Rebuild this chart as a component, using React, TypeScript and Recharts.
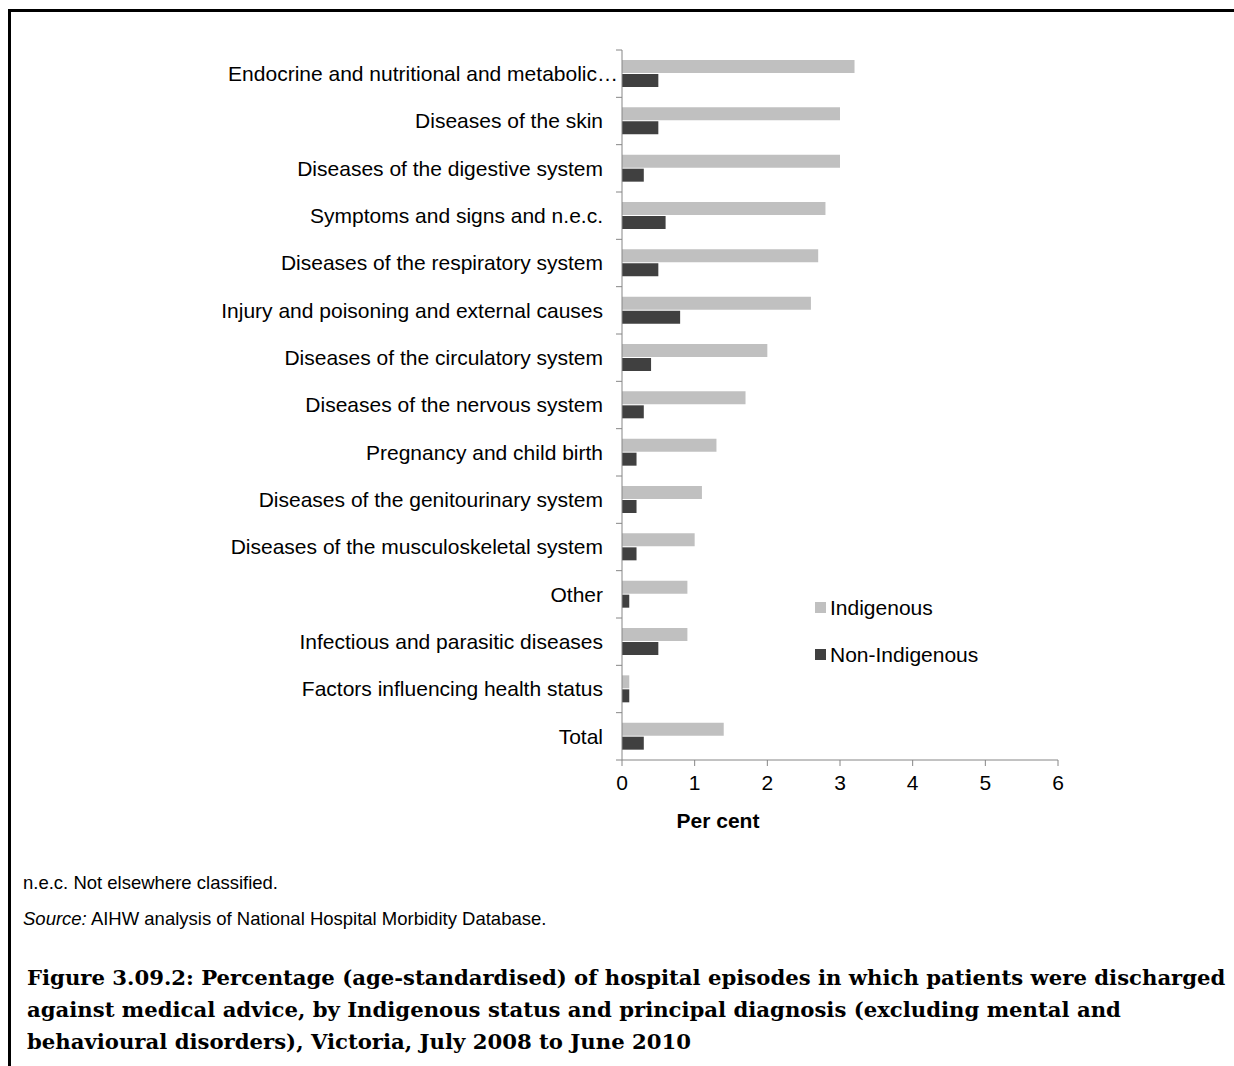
import { Bar, BarChart, Legend, XAxis, YAxis } from "recharts"

const categories = [
    "Endocrine and nutritional and metabolic…",
    "Diseases of the skin",
    "Diseases of the digestive system",
    "Symptoms and signs and n.e.c.",
    "Diseases of the respiratory system",
    "Injury and poisoning and external causes",
    "Diseases of the circulatory system",
    "Diseases of the nervous system",
    "Pregnancy and child birth",
    "Diseases of the genitourinary system",
    "Diseases of the musculoskeletal system",
    "Other",
    "Infectious and parasitic diseases",
    "Factors influencing health status",
    "Total",
]

const indigenous = [3.2, 3.0, 3.0, 2.8, 2.7, 2.6, 2.0, 1.7, 1.3, 1.1, 1.0, 0.9, 0.9, 0.1, 1.4]
const nonIndigenous = [0.5, 0.5, 0.3, 0.6, 0.5, 0.8, 0.4, 0.3, 0.2, 0.2, 0.2, 0.1, 0.5, 0.1, 0.3]
const xTicks = [0, 1, 2, 3, 4, 5, 6]

const data = categories.map((name, i) => ({
    name,
    indigenous: indigenous[i],
    nonIndigenous: nonIndigenous[i],
}))

const AXIS = "#868686"
const SANS = "'Liberation Sans', Arial, sans-serif"

const CategoryTick = (props: any) => {
    const { x, y, payload, index } = props
    const half = payload.offset || 23.67
    const axisX = x + 8
    const label = String(payload.value)
    const cut = label.endsWith("…")
    return (
        <g>
            <line x1={axisX - 6} x2={axisX} y1={y - half} y2={y - half} stroke={AXIS} />
            {index === categories.length - 1 && (
                <line x1={axisX - 6} x2={axisX} y1={y + half} y2={y + half} stroke={AXIS} />
            )}
            <text x={cut ? axisX - 4 : axisX - 19} y={y} dy="0.35em" textAnchor="end" fontSize={21} fill="#000">
                {label}
            </text>
        </g>
    )
}

const LegendBox = (props: any) => {
    const { payload } = props
    return (
        <div>
            {payload.map((entry: any) => (
                <div key={entry.value} style={{ display: "flex", alignItems: "center", height: 47 }}>
                    <span style={{ width: 11, height: 11, background: entry.color, marginRight: 4 }} />
                    <span style={{ fontSize: 21, color: "#000" }}>{entry.value}</span>
                </div>
            ))}
        </div>
    )
}

export default function App() {
    return (
        <div style={{ position: "absolute", left: 0, top: 0, width: 1234, height: 1066, background: "#fff", fontFamily: SANS, overflow: "hidden" }}>
            <div style={{ position: "absolute", left: 8, top: 9, width: 1300, height: 1100, borderTop: "3px solid #000", borderLeft: "3px solid #000" }} />
            <div style={{ position: "absolute", left: 0, top: 0 }}>
                <BarChart
                    width={1234}
                    height={860}
                    data={data}
                    layout="vertical"
                    margin={{ top: 50, right: 176, bottom: 0, left: 0 }}
                    barSize={13}
                    barGap={1}
                >
                    <XAxis
                        type="number"
                        domain={[0, 6]}
                        ticks={xTicks}
                        interval={0}
                        stroke={AXIS}
                        tick={{ fill: "#000", fontSize: 21 }}
                        tickSize={6}
                        tickMargin={9}
                        height={100}
                        label={{
                            content: () => (
                                <text x={718} y={828} textAnchor="middle" fontSize={21} fontWeight="bold" fill="#000">
                                    Per cent
                                </text>
                            ),
                        }}
                    />
                    <YAxis
                        type="category"
                        dataKey="name"
                        width={622}
                        interval={0}
                        stroke={AXIS}
                        tickLine={false}
                        tickSize={6}
                        tickMargin={2}
                        tick={<CategoryTick />}
                    />
                    <Legend
                        layout="vertical"
                        align="center"
                        verticalAlign="middle"
                        content={<LegendBox />}
                        wrapperStyle={{ position: "absolute", left: 815, top: 584, width: 220 }}
                    />
                    <Bar dataKey="indigenous" name="Indigenous" fill="#c0c0c0" isAnimationActive={false} />
                    <Bar dataKey="nonIndigenous" name="Non-Indigenous" fill="#404040" isAnimationActive={false} />
                </BarChart>
            </div>
            <div style={{ position: "absolute", left: 23, top: 872, fontSize: 18.5, color: "#000", lineHeight: "22px" }}>
                n.e.c. Not elsewhere classified.
            </div>
            <div style={{ position: "absolute", left: 23, top: 908, fontSize: 18.5, color: "#000", lineHeight: "22px" }}>
                <i>Source:</i> AIHW analysis of National Hospital Morbidity Database.
            </div>
            <div
                style={{
                    position: "absolute",
                    left: 27,
                    top: 962,
                    fontFamily: "'DejaVu Serif', serif",
                    fontWeight: "bold",
                    fontSize: 21.2,
                    lineHeight: "32px",
                    color: "#000",
                    whiteSpace: "nowrap",
                }}
            >
                <div>Figure 3.09.2: Percentage (age-standardised) of hospital episodes in which patients were discharged</div>
                <div>against medical advice, by Indigenous status and principal diagnosis (excluding mental and</div>
                <div>behavioural disorders), Victoria, July 2008 to June 2010</div>
            </div>
        </div>
    )
}
